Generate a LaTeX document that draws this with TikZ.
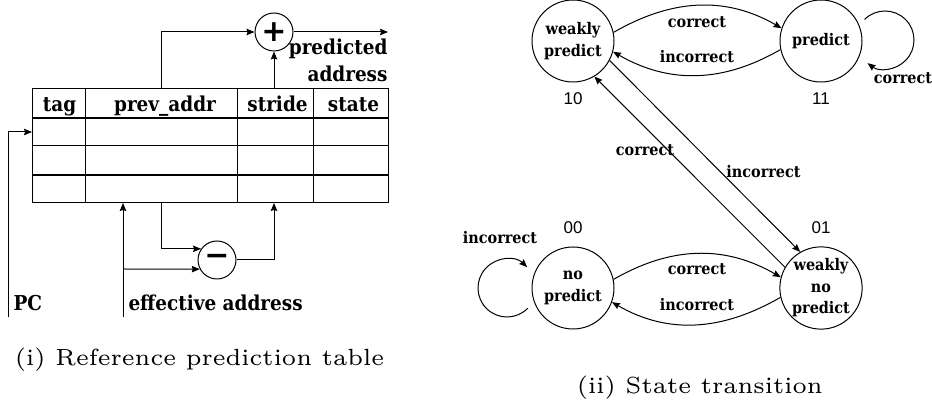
\documentclass[tikz,border=0pt]{standalone}
\usepackage{fontspec}
\setmainfont{DejaVu Serif Condensed}
\newfontfamily\numfont{Liberation Sans}
\newfontfamily\symfont{DejaVu Sans}
\usetikzlibrary{arrows.meta,calc}
\begin{document}
\begin{tikzpicture}[x=1pt,y=1pt,
  line width=1pt,
  arr/.style={-{Stealth[length=8pt,width=6.5pt,inset=1pt]}},
  hdr/.style={font=\bfseries\fontsize{20.5}{24}\selectfont, anchor=base, inner sep=0pt},
  lbl/.style={font=\bfseries\fontsize{20.5}{24}\selectfont, inner sep=0pt},
  op/.style={circle, draw, minimum size=38pt, inner sep=0pt, font=\symfont\bfseries\fontsize{30}{30}\selectfont},
  st/.style={circle, draw, minimum size=82pt, inner sep=0pt, align=center, font=\bfseries\fontsize{16}{21.5}\selectfont},
  tl/.style={font=\bfseries\fontsize{16}{19}\selectfont, inner sep=0pt},
  num/.style={font=\numfont\fontsize{17}{20}\selectfont, inner sep=0pt},
  captxt/.style={font=\fontfamily{lmr}\fontsize{6}{7}\selectfont, scale=3.9, transform shape, inner sep=0pt, anchor=base west},
  thick row/.style={line width=1.8pt}
]
\useasboundingbox (0,0) rectangle (932,409);

% ---------- (i) reference prediction table ----------
\draw (32,206) rectangle (388,320);
\foreach \x in {85,237,313} \draw (\x,206) -- (\x,320);
\draw[thick row] (32,291) -- (388,291);
\draw (32,263) -- (388,263);
\draw[thick row] (32,234) -- (388,234);

\node[hdr] (htag) at (59.5,297) {tag};
\node[hdr] (hprev) at (165,297) {prev\_addr};
\node[hdr] (hstride) at (277.5,297) {stride};
\node[hdr] (hstate) at (353.5,297) {state};

\node[op] (plus) at (274,377) {+};
\node[op] (minus) at (217,149) {−};

\coordinate (prevtop) at (161,320);
\coordinate (stridetop) at (274,320);
\coordinate (out) at (388,377);
\coordinate (prevbot) at (161,206);
\coordinate (eabot) at (123,92);
\coordinate (eatop) at (123,206);
\coordinate (eabr) at (123,140);
\coordinate (stridebot) at (274,206);
\coordinate (pcbot) at (8,92);
\coordinate (pcin) at (32,277);

\draw[arr] (prevtop) |- (plus.west);
\draw[arr] (stridetop) -- (plus.south);
\draw[arr] (plus.east) -- (out);
\draw[arr] (prevbot) |- (minus.145);
\draw[arr] (eabot) -- (eatop);
\draw[arr] (eabr) -- (minus.208);
\draw[arr] (minus.east) -| (stridebot);
\draw[arr] (pcbot) |- (pcin);

\node[lbl, anchor=base east] (pred1) at (388,354) {predicted};
\node[lbl, anchor=base east] (pred2) at (388,327) {address};
\node[lbl, anchor=base west] (pc) at (13,98) {PC};
\node[lbl, anchor=base west] (ea) at (128,98) {effective address};

% ---------- (ii) state transition ----------
\node[st] (WP) at (573,368) {weakly\\predict};
\node[st] (P) at (821,368) {predict};
\node[st] (NP) at (573,121) {no\\predict};
\node[st] (WNP) at (821,121) {weakly\\no\\predict};

\node[num] (n10) at (573,310) {10};
\node[num] (n11) at (821,310) {11};
\node[num] (n00) at (573,181) {00};
\node[num] (n01) at (821,181) {01};

\draw[arr] (WP.12) to[out=30,in=150] (P.162);
\node[tl] (lc1) at (697,387) {correct};
\draw[arr] (P.192) to[out=210,in=-30] (WP.345);
\node[tl] (li1) at (697,352) {incorrect};

\coordinate (Ploop) at (885,369);
\draw[arr] ([shift={(135:29)}]Ploop) arc[start angle=135,end angle=-127,radius=29];
\node[tl] (lc2) at (903,331) {correct};

\coordinate (NPloop) at (507,121);
\draw[arr] ([shift={(-44:29)}]NPloop) arc[start angle=-44,end angle=-314,radius=29];
\node[tl] (li2) at (500,171) {incorrect};

\draw[arr] (NP.12) to[out=30,in=150] (WNP.165);
\node[tl] (lc3) at (697,140) {correct};
\draw[arr] (WNP.193) to[out=210,in=-30] (NP.340);
\node[tl] (li3) at (697,104) {incorrect};

\draw[arr] (WP.-28) -- (WNP.120);
\draw[arr] (WNP.150) -- (WP.-59);
\node[tl] (lc4) at (645,259) {correct};
\node[tl] (li4) at (763.5,237) {incorrect};

% ---------- captions ----------
\node[captxt] (c1) at (13,43) {(i) Reference prediction table};
\node[captxt] (c2) at (575,15) {(ii) State transition};
\end{tikzpicture}
\end{document}
